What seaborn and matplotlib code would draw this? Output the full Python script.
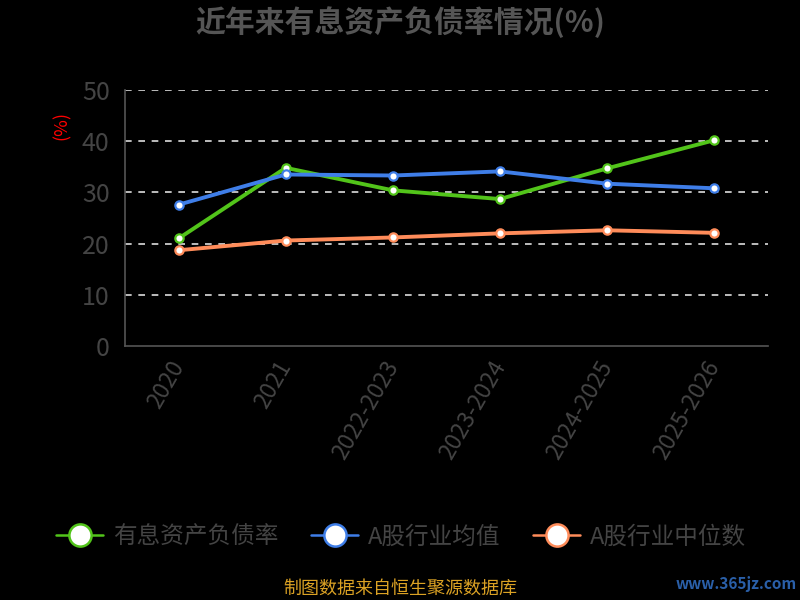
import pandas as pd
import matplotlib.pyplot as plt
import seaborn as sns
from matplotlib.lines import Line2D

years = ['2020', '2021', '2022-2023', '2023-2024', '2024-2025', '2025-2026']
debt_ratio = [21.0, 34.8, 30.4, 28.7, 34.7, 40.2]
industry_mean = [27.6, 33.5, 33.3, 34.1, 31.7, 30.8]
industry_median = [18.7, 20.6, 21.2, 22.0, 22.6, 22.1]

series_names = ['有息资产负债率', 'A股行业均值', 'A股行业中位数']
colors = ['#52c41a', '#3f7ee8', '#ff8c5a']

df = pd.DataFrame({
    'year': years * 3,
    'value': debt_ratio + industry_mean + industry_median,
    'series': [series_names[0]] * 6 + [series_names[1]] * 6 + [series_names[2]] * 6,
})
df['pos'] = df['year'].map({y: i for i, y in enumerate(years)})

sns.set_style('dark')
plt.rcParams['font.family'] = ['Noto Sans CJK SC', 'DejaVu Sans']

fig = plt.figure(figsize=(8, 6), dpi=100, facecolor='black')
ax = fig.add_axes([125 / 800, 1 - 346 / 600, 643 / 800, 256 / 600])
ax.set_facecolor('black')

sns.lineplot(data=df, x='pos', y='value', hue='series', palette=colors,
             hue_order=series_names, linewidth=2.8, marker='o', markersize=6,
             markerfacecolor='white', markeredgewidth=1.6, legend=False,
             ax=ax, zorder=3)
for line, c in zip(ax.get_lines(), colors):
    line.set_markeredgecolor(c)

ax.set_xlim(-0.5, len(years) - 0.5)
ax.set_ylim(0, 50)
ax.set_yticks([0, 10, 20, 30, 40, 50])
ax.set_xticks(range(len(years)))
ax.set_xticklabels(years, rotation=60, ha='right', va='center', rotation_mode='anchor',
                   color='#444444', fontsize=16.5)
ax.set_xticks([i - 0.5 for i in range(len(years) + 1)], minor=True)
ax.tick_params(axis='x', which='major', length=0, pad=12)
ax.tick_params(axis='x', which='minor', length=6, color='#555555', width=1.2)
ax.tick_params(axis='y', length=7, color='#555555', width=1.2,
               labelcolor='#444444', labelsize=18, pad=4)
for ytick in [10, 20, 30, 40, 50]:
    ax.axhline(ytick, color='#dddddd', linestyle=(0, (4, 4)), linewidth=1.2, zorder=1)
ax.grid(False)
for side in ['top', 'right']:
    ax.spines[side].set_visible(False)
for side in ['left', 'bottom']:
    ax.spines[side].set_color('#555555')
    ax.spines[side].set_linewidth(1.2)
ax.set_xlabel('')
ax.set_ylabel('')

fig.text(62 / 800, 1 - 126 / 600, '(%)', color='red', rotation=90,
         ha='center', va='center', fontsize=13)
fig.text(400 / 800, 1 - 22 / 600, '近年来有息资产负债率情况(%)', color='#555555',
         ha='center', va='center', fontsize=21.5, fontweight='bold')

handles = [Line2D([0], [0], color=c, linewidth=1.8, marker='o', markersize=16,
                  markerfacecolor='white', markeredgecolor=c, markeredgewidth=1.8)
           for c in colors]
fig.legend(handles, series_names, loc='center', bbox_to_anchor=(401 / 800, 1 - 537 / 600),
           ncol=3, frameon=False, fontsize=17, labelcolor='#444444',
           handlelength=2.0, columnspacing=1.4, handletextpad=0.4)

fig.text(400 / 800, 1 - 589 / 600, '制图数据来自恒生聚源数据库', color='#dba224',
         ha='center', va='center', fontsize=13)
fig.text(736 / 800, 1 - 584 / 600, 'www.365jz.com', color='#2a5fa8',
         ha='center', va='center', fontsize=11, fontweight='bold')

fig.savefig('out.png', dpi=100, facecolor='black')
